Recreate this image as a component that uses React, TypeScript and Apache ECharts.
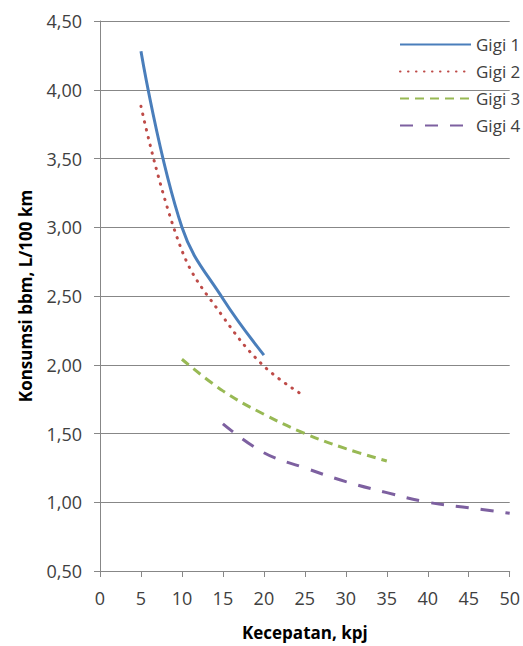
import React, { useEffect, useRef } from "react";
import * as echarts from "echarts";

const seriesNames = ["Gigi 1", "Gigi 2", "Gigi 3", "Gigi 4"];
const gigi1X = [5, 10, 15, 20];
const gigi1Y = [4.28, 3.0, 2.48, 2.07];
const gigi2X = [5, 10, 15, 20, 25];
const gigi2Y = [3.88, 2.83, 2.35, 1.99, 1.77];
const gigi3X = [10, 15, 20, 25, 30, 35];
const gigi3Y = [2.04, 1.81, 1.64, 1.5, 1.39, 1.3];
const gigi4X = [15, 20, 25, 30, 35, 40, 45, 50];
const gigi4Y = [1.57, 1.36, 1.25, 1.15, 1.07, 1.0, 0.96, 0.92];
const xTicks = [0, 5, 10, 15, 20, 25, 30, 35, 40, 45, 50];
const yTicks = [0.5, 1.0, 1.5, 2.0, 2.5, 3.0, 3.5, 4.0, 4.5];

const pairs = (xs: number[], ys: number[]) => xs.map((x, i) => [x, ys[i]]);

export default function App() {
  const ref = useRef<HTMLDivElement>(null);
  useEffect(() => {
    if (!ref.current) return;
    const chart = echarts.init(ref.current, null, { renderer: "svg" });
    const font = "'Open Sans', 'Noto Sans', sans-serif";
    const axisColor = "#878787";
    const styles = [
      { color: "#4A7EBB", type: "solid" as any, cap: "butt" },
      { color: "#BE4B48", type: [0.5, 7.5] as any, cap: "round" },
      { color: "#98B954", type: [9, 6] as any, cap: "butt" },
      { color: "#7D60A0", type: [13, 12] as any, cap: "butt" },
    ];
    const data = [
      pairs(gigi1X, gigi1Y),
      pairs(gigi2X, gigi2Y),
      pairs(gigi3X, gigi3Y),
      pairs(gigi4X, gigi4Y),
    ];
    chart.setOption({
      animation: false,
      textStyle: { fontFamily: font },
      grid: { left: 100, right: 13, top: 21, bottom: 71, containLabel: false },
      legend: {
        orient: "vertical",
        left: 394,
        top: 31,
        itemWidth: 71,
        itemHeight: 14,
        itemGap: 10,
        itemStyle: { opacity: 0, borderWidth: 0 },
        textStyle: { fontSize: 17, color: "#404040", fontFamily: font },
        data: seriesNames,
      },
      xAxis: {
        type: "value",
        min: xTicks[0],
        max: xTicks[xTicks.length - 1],
        interval: 5,
        name: "Kecepatan, kpj",
        nameLocation: "middle",
        nameGap: 53,
        nameTextStyle: { fontSize: 17, fontWeight: "bold", color: "#000", fontFamily: font },
        axisLine: { lineStyle: { color: axisColor, width: 1 } },
        axisTick: { show: true, length: 6, lineStyle: { color: axisColor } },
        axisLabel: { fontSize: 18, color: "#404040", margin: 18, fontFamily: font },
        splitLine: { show: false },
      },
      yAxis: {
        type: "value",
        min: yTicks[0],
        max: yTicks[yTicks.length - 1],
        interval: 0.5,
        name: "Konsumsi bbm, L/100 km",
        nameLocation: "middle",
        nameGap: 66,
        nameRotate: 90,
        nameTextStyle: { fontSize: 17, fontWeight: "bold", color: "#000", fontFamily: font },
        axisLine: { show: true, lineStyle: { color: axisColor, width: 1 } },
        axisTick: { show: true, length: 6, lineStyle: { color: axisColor } },
        axisLabel: {
          fontSize: 18,
          color: "#404040",
          margin: 18,
          fontFamily: font,
          formatter: (v: number) => v.toFixed(2).replace(".", ","),
        },
        splitLine: { show: true, lineStyle: { color: axisColor, width: 1 } },
      },
      series: seriesNames.map((name, i) => ({
        name,
        type: "line",
        data: data[i],
        smooth: 0.4,
        symbol: "none",
        color: styles[i].color,
        lineStyle: {
          color: styles[i].color,
          width: 3,
          type: styles[i].type,
          cap: styles[i].cap,
        },
      })),
    });
    return () => chart.dispose();
  }, []);
  return (
    <div
      ref={ref}
      style={{ position: "fixed", left: 0, top: 0, width: 523, height: 646, background: "#fff" }}
    />
  );
}
